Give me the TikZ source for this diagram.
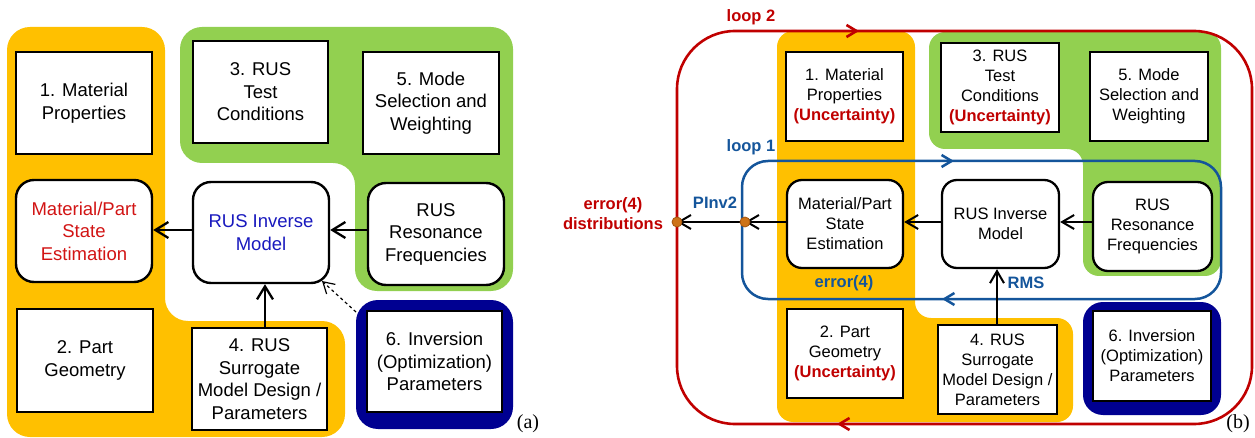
\documentclass[tikz,border=0pt]{standalone}
\usepackage{fontspec}
\setmainfont{Liberation Sans}
\newfontfamily\serifcap{Liberation Serif}
\usetikzlibrary{arrows.meta}
\definecolor{orng}{RGB}{255,192,0}
\definecolor{grn}{RGB}{146,208,80}
\definecolor{navy}{RGB}{0,0,145}
\definecolor{loopred}{RGB}{192,0,0}
\definecolor{loopblue}{RGB}{20,85,155}
\definecolor{txtred}{RGB}{210,20,20}
\definecolor{txtblue}{RGB}{25,25,190}
\definecolor{dotfill}{RGB}{205,115,25}
\definecolor{dotline}{RGB}{165,85,15}
\begin{document}
\begin{tikzpicture}[x=1pt,y=-1pt,
  fa/.style={font=\fontsize{18.5}{22.5}\selectfont},
  fb/.style={font=\fontsize{16.5}{20}\selectfont},
  lab/.style={font=\bfseries\fontsize{16.5}{20}\selectfont, inner sep=0pt, align=center},
  sqbox/.style={draw=black, line width=1.8pt, fill=white, align=center, inner sep=0pt},
  rboxa/.style={sqbox, line width=2.4pt, rounded corners=18pt},
  rboxb/.style={sqbox, line width=2.3pt, rounded corners=15pt},
  arra/.style={draw=black, line width=2.3pt, -{Straight Barb[length=13pt,width=16pt,line width=2.3pt]}},
  arrb/.style={draw=black, line width=2pt, -{Straight Barb[length=12pt,width=14pt,line width=2pt]}},
  dasharr/.style={draw=black, line width=1.2pt, dashed, -{Straight Barb[length=11pt,width=13pt,line width=1.2pt]}},
  loopr/.style={draw=loopred, line width=2.6pt},
  loopb/.style={draw=loopblue, line width=2.5pt},
  tipr/.style={loopr, -{Straight Barb[length=10pt,width=12pt,line width=2.6pt]}},
  tipb/.style={loopb, -{Straight Barb[length=10pt,width=12pt,line width=2.5pt]}},
  dot/.style={circle, fill=dotfill, draw=dotline, line width=0.8pt, minimum size=10pt, inner sep=0pt}
]
\useasboundingbox (0,0) rectangle (1255,438);
% ---------------- (a) backgrounds
\fill[orng, rounded corners=23pt] (7,27) -- (165,27) -- (165,321) -- (345,321) -- (345,437) -- (7,437) -- cycle;
\fill[grn, rounded corners=22pt] (180,27) -- (513,27) -- (513,291) -- (355,291) -- (355,163) -- (180,163) -- cycle;
\fill[navy, rounded corners=22pt] (356,300) rectangle (513,429);
% ---------------- (a) nodes
\node[sqbox,fa,minimum width=136pt,minimum height=102pt] (a1) at (84,103) {1. Material\\Properties};
\node[sqbox,fa,minimum width=135pt,minimum height=102pt] (a3) at (260.5,92) {3. RUS\\Test\\Conditions};
\node[sqbox,fa,minimum width=136pt,minimum height=102pt] (a5) at (431,103) {5. Mode\\Selection and\\Weighting};
\node[rboxa,fa,text=txtred,minimum width=136pt,minimum height=102pt] (amp) at (84,231) {Material/Part\\State\\Estimation};
\node[rboxa,fa,text=txtblue,minimum width=136pt,minimum height=101pt] (ainv) at (261,232.5) {RUS Inverse\\Model};
\node[rboxa,fa,minimum width=136pt,minimum height=102pt] (ares) at (436,234) {RUS\\Resonance\\Frequencies};
\node[sqbox,fa,minimum width=136pt,minimum height=103pt] (a2) at (85,360.5) {2. Part\\Geometry};
\node[sqbox,fa,minimum width=135pt,minimum height=102pt] (a4) at (259.5,379) {4. RUS\\Surrogate\\Model Design /\\Parameters};
\node[sqbox,fa,minimum width=135pt,minimum height=101pt] (a6) at (434.5,361.5) {6. Inversion\\(Optimization)\\Parameters};
% ---------------- (a) connectors
\draw[arra] (ainv.west |- 0,230) -- (amp.east |- 0,230);
\draw[arra] (ares.west |- 0,230) -- (ainv.east |- 0,230);
\draw[arra] (a4.north -| 265,0) -- (ainv.south -| 265,0);
\coordinate (a6c) at (356,312);
\coordinate (ainvc) at (322,281);
\draw[dasharr] (a6c) -- (ainvc);
\node[font=\serifcap\fontsize{20}{24}\selectfont, inner sep=0pt] (laba) at (528,424) {(a)};
% ---------------- (b) backgrounds
\fill[orng, rounded corners=16pt] (777,31) -- (915,31) -- (915,318) -- (1073,318) -- (1073,422) -- (777,422) -- cycle;
\fill[grn, rounded corners=16pt] (929,32) -- (1221,32) -- (1221,276) -- (1083,276) -- (1083,149) -- (929,149) -- cycle;
\fill[navy, rounded corners=20pt] (1083,302) rectangle (1221,415);
% loops
\draw[loopr, rounded corners=58pt] (677,31) rectangle (1252,424);
\draw[loopb, rounded corners=26pt] (742,161) rectangle (1221,299);
\draw[tipr] (845,31) -- (859,31);
\draw[tipr] (851,424) -- (837,424);
\draw[tipb] (940,161) -- (954,161);
\draw[tipb] (956,299) -- (942,299);
% ---------------- (b) nodes
\node[sqbox,fb,minimum width=117pt,minimum height=89pt] (b1) at (844.5,96.5) {1. Material\\Properties\\\textcolor{loopred}{\bfseries (Uncertainty)}};
\node[sqbox,fb,minimum width=118pt,minimum height=89pt] (b3) at (1000,87.5) {3. RUS\\Test\\Conditions\\\textcolor{loopred}{\bfseries (Uncertainty)}};
\node[sqbox,fb,minimum width=118pt,minimum height=89pt] (b5) at (1149,96.5) {5. Mode\\Selection and\\Weighting};
\node[rboxb,fb,minimum width=116pt,minimum height=88pt] (bmp) at (845,224) {Material/Part\\State\\Estimation};
\node[rboxb,fb,minimum width=117pt,minimum height=88pt] (binv) at (1000.5,224) {RUS Inverse\\Model};
\node[rboxb,fb,minimum width=119pt,minimum height=89pt] (bres) at (1152.5,226.5) {RUS\\Resonance\\Frequencies};
\node[sqbox,fb,minimum width=116pt,minimum height=89pt] (b2) at (845,353.5) {2. Part\\Geometry\\\textcolor{loopred}{\bfseries (Uncertainty)}};
\node[sqbox,fb,minimum width=119pt,minimum height=89pt] (b4) at (997.5,369.5) {4. RUS\\Surrogate\\Model Design /\\Parameters};
\node[sqbox,fb,minimum width=118pt,minimum height=90pt] (b6) at (1152,356) {6. Inversion\\(Optimization)\\Parameters};
% ---------------- (b) connectors
\coordinate (dB) at (745,222);
\coordinate (dR) at (677,222);
\draw[arrb] (bres.west |- 0,222) -- (binv.east |- 0,222);
\draw[arrb] (binv.west |- 0,222) -- (bmp.east |- 0,222);
\draw[arrb] (bmp.west |- 0,222) -- (dB);
\draw[arrb] (dB) -- (dR);
\draw[arrb] (b4.north -| 997,0) -- (binv.south -| 997,0);
\node[dot] (dotB) at (dB) {};
\node[dot] (dotR) at (dR) {};
% labels
\node[lab, text=loopred] (l2) at (751,17) {loop 2};
\node[lab, text=loopblue] (l1) at (751,147) {loop 1};
\node[lab, text=loopred] (errd) at (613,214) {error(4)\\distributions};
\node[lab, text=loopblue] (pinv) at (715,203) {PInv2};
\node[lab, text=loopblue] (err4) at (844,283) {error(4)};
\node[lab, text=loopblue] (rms) at (1026,283) {RMS};
\node[font=\serifcap\fontsize{20}{24}\selectfont, inner sep=0pt] (labb) at (1238,424) {(b)};
\end{tikzpicture}
\end{document}
